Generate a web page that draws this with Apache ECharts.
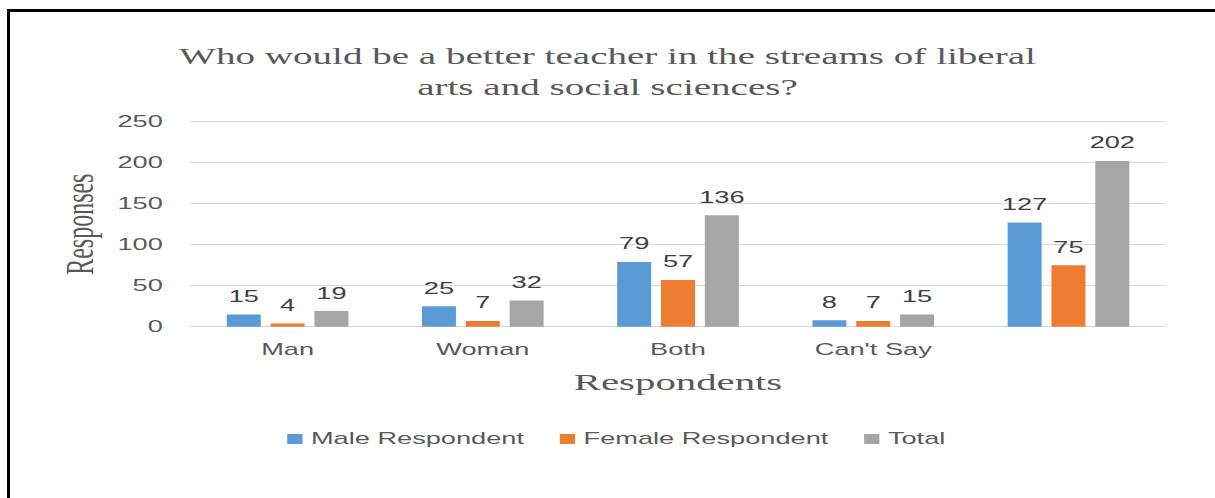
<!DOCTYPE html>
<html>
<head>
<meta charset="utf-8">
<script src="https://cdn.jsdelivr.net/npm/echarts@6/dist/echarts.min.js"></script>
<style>
html,body{margin:0;padding:0;background:#fff;overflow:hidden;}
#wrap{position:relative;width:1215px;height:498px;overflow:hidden;}
/* the source image is horizontally stretched; reproduce that with a uniform horizontal scale */
#c{position:absolute;left:0;top:0;width:715px;height:498px;transform:scaleX(1.6993);transform-origin:0 0;}
#frame{position:absolute;left:7px;top:9px;width:1300px;height:600px;border-left:3px solid #000;border-top:3px solid #000;pointer-events:none;}
</style>
</head>
<body>
<div id="wrap">
<div id="c"></div>
<div id="frame"></div>
</div>
<script>
var categories = ["Man", "Woman", "Both", "Can't Say", ""];
var maleValues = [15, 25, 79, 8, 127];
var femaleValues = [4, 7, 57, 7, 75];
var totalValues = [19, 32, 136, 15, 202];
var seriesNames = ["Male Respondent", "Female Respondent", "Total"];
var yTicks = {min: 0, max: 250, interval: 50};

var SANS = 'Liberation Sans, Arial, sans-serif';
var SERIF = 'Liberation Serif, Times New Roman, serif';
var chart = echarts.init(document.getElementById('c'), null, {renderer: 'svg'});
var labelStyle = {show: true, position: 'top', distance: 10, color: '#404040', fontSize: 16, fontFamily: SANS};
function mk(name, data, color) {
  return {name: name, type: 'bar', data: data, barWidth: 20, barGap: '29%',
    itemStyle: {color: color}, label: labelStyle};
}
chart.setOption({
  animation: false,
  backgroundColor: '#ffffff',
  title: {
    text: 'Who would be a better teacher in the streams of liberal\narts and social sciences?',
    left: 'center', top: 36,
    textStyle: {fontFamily: SERIF, fontSize: 23, fontWeight: 'normal', color: '#595959', lineHeight: 31}
  },
  legend: {
    data: seriesNames, top: 426, left: 164, itemWidth: 9, itemHeight: 10, itemGap: 21,
    icon: 'rect',
    textStyle: {fontFamily: SANS, fontSize: 16, color: '#595959'}
  },
  grid: {left: 111.8, right: 28.8, top: 121.7, bottom: 171.3},
  xAxis: {
    type: 'category', data: categories,
    name: 'Respondents', nameLocation: 'middle', nameGap: 43,
    nameTextStyle: {fontFamily: SERIF, fontSize: 24, color: '#595959'},
    axisLine: {lineStyle: {color: '#d9d9d9', width: 1}},
    axisTick: {show: false},
    axisLabel: {color: '#595959', fontSize: 16, margin: 15, fontFamily: SANS}
  },
  yAxis: {
    type: 'value', min: yTicks.min, max: yTicks.max, interval: yTicks.interval,
    name: 'Responses', nameLocation: 'middle', nameGap: 39, nameRotate: 90,
    nameTextStyle: {fontFamily: SERIF, fontSize: 24, color: '#595959'},
    axisLine: {show: false}, axisTick: {show: false},
    splitLine: {lineStyle: {color: '#d9d9d9', width: 1}},
    axisLabel: {color: '#595959', fontSize: 16, margin: 16, fontFamily: SANS}
  },
  series: [
    mk(seriesNames[0], maleValues, '#5B9BD5'),
    mk(seriesNames[1], femaleValues, '#ED7D31'),
    mk(seriesNames[2], totalValues, '#A5A5A5')
  ]
});
</script>
</body>
</html>
